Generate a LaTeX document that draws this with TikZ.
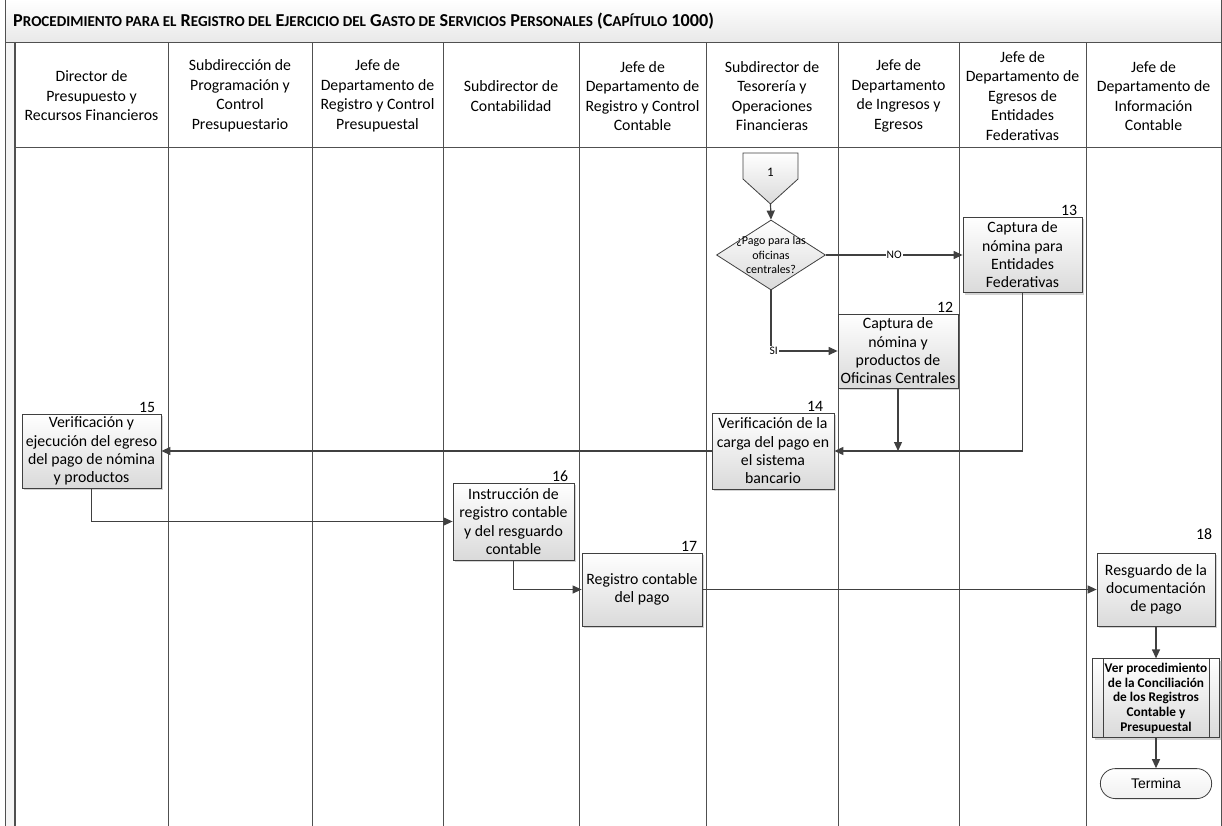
\documentclass[tikz,border=0pt]{standalone}
\usepackage{fontspec}
\setmainfont{Carlito}
\newfontfamily\arialfont{Liberation Sans}
\usetikzlibrary{arrows.meta, positioning, shapes.geometric, shapes.misc, shadows, calc}
\definecolor{linegray}{HTML}{404040}
\definecolor{lanegray}{HTML}{505050}
\definecolor{boxbottom}{HTML}{DADADA}
\newcommand{\smc}[1]{{\fontsize{15.1}{16}\selectfont #1}}

\begin{document}
\begin{tikzpicture}[x=1pt, y=-1pt,
  every node/.style={font=\fontsize{15.8}{18.3}\selectfont},
  lane/.style={draw=lanegray, line width=1pt},
  head/.style={align=center, inner sep=0pt, font=\fontsize{15.8}{19.5}\selectfont},
  act/.style={draw=linegray, line width=0.8pt, top color=white, bottom color=boxbottom, align=center, inner sep=0pt,
    drop shadow={shadow xshift=2pt, shadow yshift=-2pt, opacity=0.35}},
  decision/.style={diamond, draw=linegray, line width=0.8pt, top color=white, bottom color=boxbottom, inner sep=0pt,
    minimum width=109pt, minimum height=70pt},
  dectext/.style={align=center, inner sep=0pt, font=\fontsize{12}{14.7}\selectfont},
  numlbl/.style={anchor=south east, inner sep=1pt},
  arr/.style={-{Triangle[length=9pt, width=8pt]}, draw=linegray, line width=1.2pt},
  cond/.style={fill=white, inner sep=1pt, font=\fontsize{11.5}{12}\selectfont},
  subproc/.style={act, font=\bfseries\fontsize{13.3}{14.8}\selectfont, minimum width=127pt, minimum height=79pt},
  ending/.style={rounded rectangle, draw=linegray, line width=0.8pt, top color=white, bottom color=gray!12,
    font=\arialfont\fontsize{14}{16}\selectfont, minimum width=118pt, minimum height=30pt}
]
  \useasboundingbox (0,0) rectangle (1222,826);

  % pool and lanes
  \shade[top color=white, bottom color=gray!18] (5,0) rectangle (1221,43);
  \fill[gray!8] (5,43) rectangle (15,826);
  \draw[lane] (5,826) -- (5,0) -- (1221,0) -- (1221,826);
  \draw[lane] (5,43) -- (1221,43);
  \draw[lanegray, line width=2pt] (15,43) -- (15,826);
  \draw[lane] (15,148) -- (1221,148);
  \foreach \x in {168,312,443,579,706,838,959,1086}
    \draw[lane] (\x,43) -- (\x,826);

  \node[anchor=base west, inner sep=0pt, font=\bfseries\fontsize{18.2}{19}\selectfont] (title) at (13,27)
    {P\smc{ROCEDIMIENTO PARA EL} R\smc{EGISTRO DEL} E\smc{JERCICIO DEL} G\smc{ASTO DE} S\smc{ERVICIOS} P\smc{ERSONALES} (C\smc{APÍTULO} 1000)};

  \node[head] (h1) at (91.5,96) {Director de\\Presupuesto y\\Recursos Financieros};
  \node[head] (h2) at (240,96) {Subdirección de\\Programación y\\Control\\Presupuestario};
  \node[head] (h3) at (377.5,96) {Jefe de\\Departamento de\\Registro y Control\\Presupuestal};
  \node[head] (h4) at (511,96) {Subdirector de\\Contabilidad};
  \node[head] (h5) at (642.5,96) {Jefe de\\Departamento de\\Registro y Control\\Contable};
  \node[head] (h6) at (772,96) {Subdirector de\\Tesorería y\\Operaciones\\Financieras};
  \node[head] (h7) at (898.5,96) {Jefe de\\Departamento\\de Ingresos y\\Egresos};
  \node[head] (h8) at (1022.5,96) {Jefe de\\Departamento de\\Egresos de\\Entidades\\Federativas};
  \node[head] (h9) at (1153.5,96) {Jefe de\\Departamento de\\Información\\Contable};

  % off-page connector
  \coordinate (off1tip) at (770.5,204);
  \shade[draw=linegray, line width=0.8pt, top color=white, bottom color=boxbottom]
    (743,153) -- (798,153) -- (798,179) -- (off1tip) -- (743,179) -- cycle;
  \node (off1) at (770.5,172) {\fontsize{13}{14}\selectfont 1};

  % activities
  \node[decision, label={[dectext]center:{¿Pago para las\\oficinas\\centrales?}}] (dec) at (771,255) {};
  \node[act, minimum width=119pt, minimum height=75pt, label={[numlbl, xshift=-4pt]north east:13}] (b13) at (1022.5,255)
    {Captura de\\nómina para\\Entidades\\Federativas};
  \node[act, minimum width=120pt, minimum height=74pt, label={[numlbl, xshift=-4pt]north east:12}] (b12) at (898,351)
    {Captura de\\nómina y\\productos de\\Oficinas Centrales};
  \node[act, minimum width=122pt, minimum height=76pt, label={[numlbl, xshift=-10pt]north east:14}] (b14) at (773,451)
    {Verificación de la\\carga del pago en\\el sistema\\bancario};
  \node[act, minimum width=139pt, minimum height=74pt, label={[numlbl, xshift=-5pt]north east:15}] (b15) at (91.5,451)
    {Verificación y\\ejecución del egreso\\del pago de nómina\\y productos};
  \node[act, minimum width=121pt, minimum height=77pt, label={[numlbl, xshift=-5pt]north east:16}] (b16) at (513.5,521.5)
    {Instrucción de\\registro contable\\y del resguardo\\contable};
  \node[act, minimum width=120pt, minimum height=73pt, label={[numlbl, xshift=-4pt]north east:17}] (b17) at (642,589.5)
    {Registro contable\\del pago};
  \node[act, minimum width=118pt, minimum height=73pt, label={[numlbl, xshift=-2pt, yshift=12pt]north east:18}] (b18) at (1156,589.5)
    {Resguardo de la\\documentación\\de pago};
  \node[subproc, below=32pt of b18] (sub)
    {Ver procedimiento\\de la Conciliación\\de los Registros\\Contable y\\Presupuestal};
  \draw[linegray, line width=0.8pt] ($(sub.north west)+(11,0)$) -- ($(sub.south west)+(11,0)$);
  \draw[linegray, line width=0.8pt] ($(sub.north east)+(-11,0)$) -- ($(sub.south east)+(-11,0)$);
  \node[ending, below=30pt of sub] (term) {Termina};

  % connectors
  \draw[arr] (off1tip) -- (dec.north);
  \draw[arr] (dec.east) -- node[cond]{NO} (b13.west);
  \draw[arr] (dec.south) |- node[cond, pos=0.52]{SI} (b12.west);
  \draw[arr] (b13.south) |- (b14.east);
  \draw[arr] (b12.south) -- (b12.south |- b14.east);
  \draw[arr] (b14.west) -- (b15.east);
  \draw[arr] (b15.south) |- (b16.west);
  \draw[arr] (b16.south) |- (b17.west);
  \draw[arr] (b17.east) -- (b18.west);
  \draw[arr] (b18.south) -- (sub.north);
  \draw[arr] (sub.south) -- (term.north);
\end{tikzpicture}
\end{document}
